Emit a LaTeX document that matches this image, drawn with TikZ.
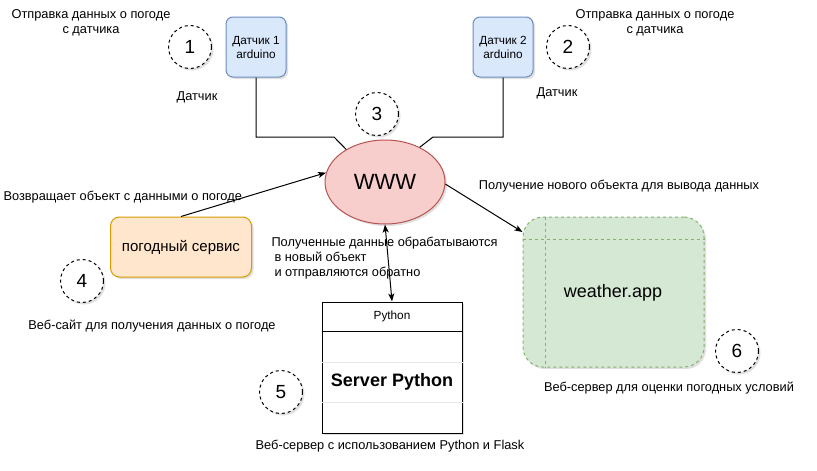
\documentclass[tikz,border=0pt]{standalone}
\usepackage{fontspec}
\setmainfont{Liberation Sans}
\usetikzlibrary{shapes.geometric,arrows.meta,shadows}
\definecolor{sensorfill}{HTML}{DAE8FC}
\definecolor{sensorline}{HTML}{6C8EBF}
\definecolor{wwwfill}{HTML}{F8CECC}
\definecolor{wwwline}{HTML}{B85450}
\definecolor{svcfill}{HTML}{FFE6CC}
\definecolor{svcline}{HTML}{D79B00}
\definecolor{appfill}{HTML}{D5E8D4}
\definecolor{appline}{HTML}{82B366}
\definecolor{divline}{HTML}{E6E6E6}
\begin{document}
\begin{tikzpicture}[x=1pt,y=-1pt,line width=1pt,
  shad/.style={drop shadow={opacity=0.25,shadow xshift=2pt,shadow yshift=-2pt}},
  sensor/.style={draw=sensorline,fill=sensorfill,rounded corners=7pt,minimum width=60pt,minimum height=60pt,inner sep=0pt,align=center,font=\fontsize{11.8}{14}\selectfont,shad},
  num/.style={circle,draw,dashed,fill=white,minimum size=43pt,inner sep=0pt,font=\fontsize{19}{21}\selectfont,shad},
  lbl/.style={align=center,inner sep=0pt,font=\fontsize{12.8}{15}\selectfont},
  conn/.style={draw,line width=1pt},
  arr/.style={conn,-{Stealth[length=8pt,width=6pt,inset=2pt]}},
  darr/.style={conn,{Stealth[length=8pt,width=6pt,inset=2pt]}-{Stealth[length=8pt,width=6pt,inset=2pt]}}]
\useasboundingbox[fill=white] (0,0) rectangle (817,471);

% sensors
\node[sensor] (s1) at (256,47) {Датчик 1\\arduino};
\node[sensor] (s2) at (503,47) {Датчик 2\\arduino};

% numbered circles
\node[num] (n1) at (190,47) {1};
\node[num] (n2) at (568,47) {2};
\node[num] (n3) at (377,114) {3};
\node[num] (n4) at (82,281) {4};
\node[num] (n5) at (281,392) {5};
\node[num] (n6) at (737,351) {6};

% WWW
\node[ellipse,draw=wwwline,fill=wwwfill,minimum width=120pt,minimum height=84pt,inner sep=0pt,font=\fontsize{22}{24}\selectfont,shad] (www) at (385,182) {WWW};

% weather service
\node[draw=svcline,fill=svcfill,rounded corners=9pt,minimum width=141pt,minimum height=60pt,inner sep=0pt,font=\fontsize{15}{17}\selectfont,shad] (svc) at (181,247) {погодный сервис};

% python box
\node[draw,fill=white,minimum width=140pt,minimum height=131pt,inner sep=0pt,shad] (py) at (392,367.5) {};
\draw[divline] ([yshift=-61pt]py.north west) -- ([yshift=-61pt]py.north east);
\draw[divline] ([yshift=-101pt]py.north west) -- ([yshift=-101pt]py.north east);
\draw ([yshift=-30pt]py.north west) -- ([yshift=-30pt]py.north east);
\node[inner sep=0pt,font=\fontsize{11.8}{13}\selectfont] (pyhead) at ([yshift=-15pt]py.north) {Python};
\node[inner sep=0pt,font=\fontsize{18}{20}\selectfont\bfseries] (pybody) at ([yshift=-80pt]py.north) {Server Python};

% weather.app
\node[draw=appline,fill=appfill,dashed,rounded corners=20pt,minimum width=181pt,minimum height=150pt,inner sep=0pt,shad] (app) at (613.5,292) {};
\draw[appline,dashed] ([xshift=23pt]app.north west) -- ([xshift=23pt]app.south west);
\draw[appline,dashed] ([yshift=-23pt]app.north west) -- ([yshift=-23pt]app.north east);
\node[inner sep=0pt,font=\fontsize{18}{20}\selectfont] (apptext) at (613,293) {weather.app};

% connectors
\coordinate (c1a) at (256,137);
\coordinate (c1b) at (334,137);
\coordinate (c2a) at (503,137);
\coordinate (c2b) at (433,137);
\draw[conn] (s1.south) -- (c1a) -- (c1b) -- (www.140);
\draw[conn] (s2.south) -- (c2a) -- (c2b) -- (www.45);
\draw[arr] (svc.north) -- (www.171);
\draw[arr] (www.-2) -- (app.north west |- 0,232);
\draw[darr] (www.south) -- (py.north);

% labels
\node[lbl] (l1) at (91,22.5) {Отправка данных о погоде\\с датчика};
\node[lbl] (l2) at (655,22.5) {Отправка данных о погоде\\с датчика};
\node[lbl] (d1) at (197,97) {Датчик};
\node[lbl] (d2) at (557,93) {Датчик};
\node[lbl,anchor=west] (l3) at (3,197) {Возвращает объект с данными о погоде};
\node[lbl] (l4) at (619,186) {Получение нового объекта для вывода данных};
\node[lbl,align=left,anchor=west] (l5) at (271,258) {Полученные данные обрабатываются\\\hspace{3pt}в новый объект\\\hspace{3pt}и отправляются обратно};
\node[lbl] (l6) at (152,326) {Веб-сайт для получения данных о погоде};
\node[lbl] (l7) at (390,446) {Веб-сервер с использованием Python и Flask};
\node[lbl] (l8) at (669,388) {Веб-сервер для оценки погодных условий};
\end{tikzpicture}
\end{document}
